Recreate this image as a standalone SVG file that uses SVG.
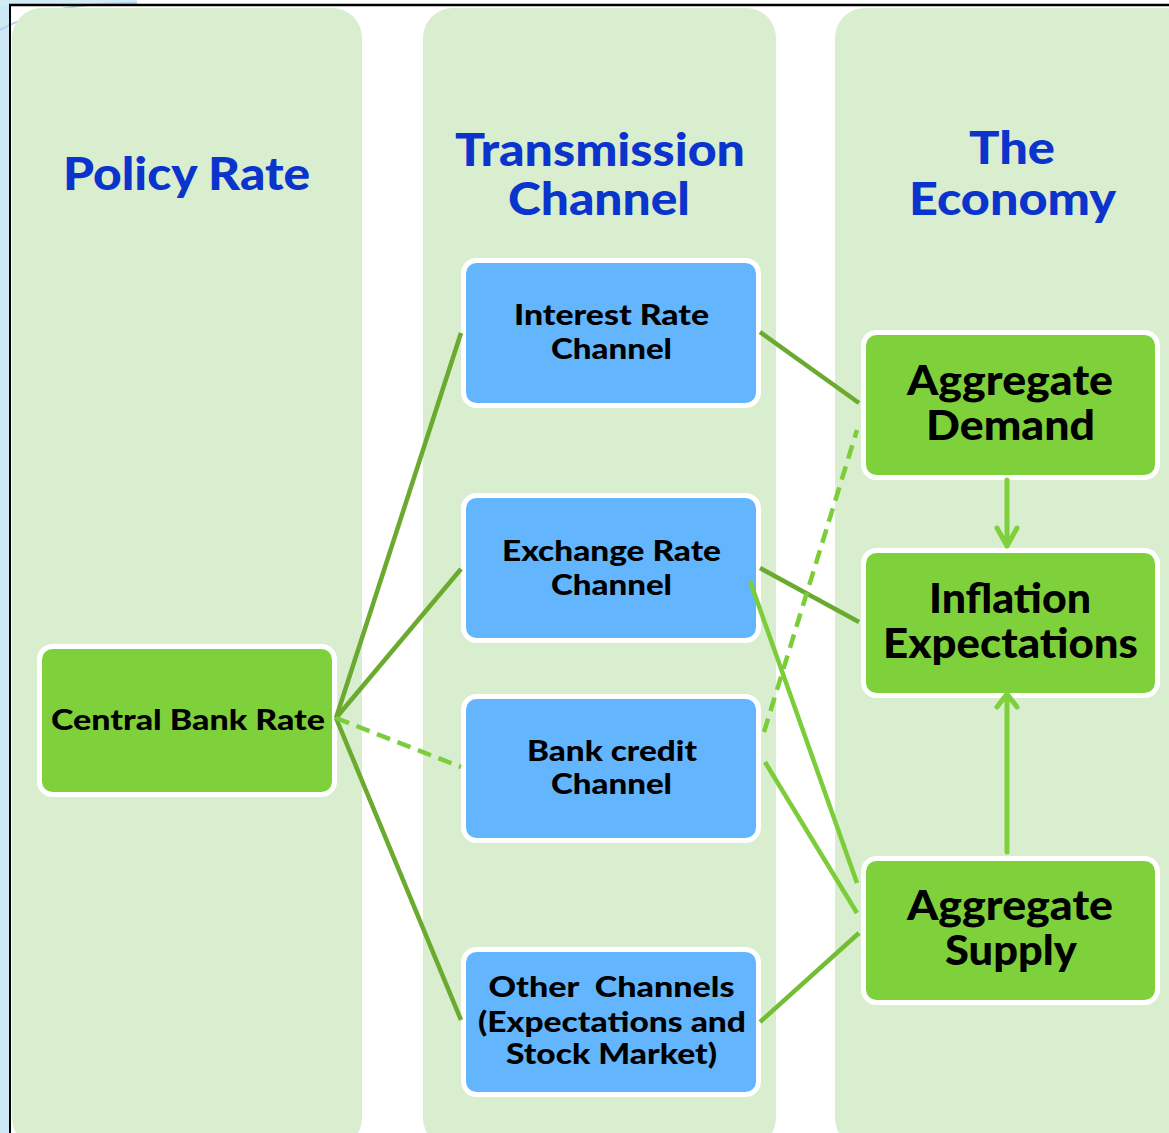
<svg xmlns="http://www.w3.org/2000/svg" width="1169" height="1133" viewBox="0 0 1169 1133">
<style>
.col{fill:#d9edcf}
.gn{fill:#7fd13b;stroke:#fff;stroke-width:5}
.bl{fill:#63b5fd;stroke:#fff;stroke-width:5}
.ttl{font-family:Lato,"Open Sans","DejaVu Sans",sans-serif;font-weight:900;fill:#0a34cc;text-anchor:middle;font-size:45px}
.nt{font-family:Lato,"Open Sans","DejaVu Sans",sans-serif;font-weight:900;fill:#000;text-anchor:middle;font-size:29px}
.big{font-size:41px}
.dk{stroke:#6aaa2f;stroke-width:4.5;fill:none}
.lt{stroke:#7ccd3a;stroke-width:4.5;fill:none}
.ds{stroke-dasharray:14 8}
.ar{stroke:#7fd13b;stroke-width:5;fill:none;stroke-linecap:round;stroke-linejoin:round}
</style>
<rect x="0" y="0" width="1169" height="1133" fill="#fff"/>
<!-- left decoration -->
<rect x="0" y="0" width="10" height="1133" fill="#cde9f8"/>
<rect x="0" y="0" width="137" height="6" fill="#d3eaf7"/>
<path d="M0 30 Q50 2 137 3" stroke="#b3d4e8" stroke-width="2" fill="none"/>
<!-- frame -->
<line x1="9" y1="5" x2="1169" y2="5" stroke="#000" stroke-width="2.5"/>
<line x1="10" y1="5" x2="10" y2="1133" stroke="#000" stroke-width="2"/>
<!-- columns -->
<rect class="col" x="12" y="8" width="350" height="1140" rx="30"/>
<rect class="col" x="423" y="8" width="353" height="1140" rx="30"/>
<rect class="col" x="835" y="8" width="360" height="1140" rx="30"/>
<text class="ttl" x="186.5" y="190" textLength="247" lengthAdjust="spacingAndGlyphs">Policy Rate</text>
<text class="ttl" x="600" y="166" textLength="290" lengthAdjust="spacingAndGlyphs">Transmission</text>
<text class="ttl" x="599" y="215" textLength="182" lengthAdjust="spacingAndGlyphs">Channel</text>
<text class="ttl" x="1012" y="164" textLength="86" lengthAdjust="spacingAndGlyphs">The</text>
<text class="ttl" x="1012.5" y="215" textLength="207" lengthAdjust="spacingAndGlyphs">Economy</text>
<g id="central-bank-rate">
<rect class="gn" x="39.5" y="646.5" width="295" height="148" rx="13"/>
<text class="nt" x="188" y="730" textLength="274" lengthAdjust="spacingAndGlyphs">Central Bank Rate</text>
</g>
<g id="interest-rate-channel">
<rect class="bl" x="463.5" y="260.5" width="295" height="145" rx="13"/>
<text class="nt" x="611.5" y="325" textLength="195" lengthAdjust="spacingAndGlyphs">Interest Rate</text>
<text class="nt" x="611.5" y="359" textLength="121" lengthAdjust="spacingAndGlyphs">Channel</text>
</g>
<g id="exchange-rate-channel">
<rect class="bl" x="463.5" y="495.5" width="295" height="145" rx="13"/>
<text class="nt" x="611.5" y="561" textLength="219" lengthAdjust="spacingAndGlyphs">Exchange Rate</text>
<text class="nt" x="611.5" y="595" textLength="121" lengthAdjust="spacingAndGlyphs">Channel</text>
</g>
<g id="bank-credit-channel">
<rect class="bl" x="463.5" y="696.5" width="295" height="144" rx="13"/>
<text class="nt" x="612" y="761" textLength="170" lengthAdjust="spacingAndGlyphs">Bank credit</text>
<text class="nt" x="611.5" y="794" textLength="121" lengthAdjust="spacingAndGlyphs">Channel</text>
</g>
<g id="other-channels">
<rect class="bl" x="463.5" y="949.5" width="295" height="145" rx="13"/>
<text class="nt" x="611.5" y="997" xml:space="preserve" textLength="246" lengthAdjust="spacingAndGlyphs">Other  Channels</text>
<text class="nt" x="612" y="1032" textLength="268" lengthAdjust="spacingAndGlyphs">(Expectations and</text>
<text class="nt" x="611.5" y="1064" textLength="211" lengthAdjust="spacingAndGlyphs">Stock Market)</text>
</g>
<g id="aggregate-demand">
<rect class="gn" x="863.5" y="332.5" width="294" height="145" rx="13"/>
<text class="nt big" x="1010" y="395" textLength="206" lengthAdjust="spacingAndGlyphs">Aggregate</text>
<text class="nt big" x="1010.5" y="440" textLength="169" lengthAdjust="spacingAndGlyphs">Demand</text>
</g>
<g id="inflation-expectations">
<rect class="gn" x="863.5" y="550.5" width="294" height="145" rx="13"/>
<text class="nt big" x="1010" y="613" textLength="162" lengthAdjust="spacingAndGlyphs">Inflation</text>
<text class="nt big" x="1010.5" y="658" textLength="255" lengthAdjust="spacingAndGlyphs">Expectations</text>
</g>
<g id="aggregate-supply">
<rect class="gn" x="863.5" y="858.5" width="294" height="144" rx="13"/>
<text class="nt big" x="1010" y="920" textLength="206" lengthAdjust="spacingAndGlyphs">Aggregate</text>
<text class="nt big" x="1011" y="965" textLength="132" lengthAdjust="spacingAndGlyphs">Supply</text>
</g>
<g id="connectors">
<line class="dk" x1="336" y1="718" x2="461" y2="333"/>
<line class="dk" x1="336" y1="718" x2="461" y2="569"/>
<line class="dk" x1="336" y1="718" x2="461" y2="1020"/>
<line class="lt ds" x1="336" y1="718" x2="461" y2="767"/>
<line class="dk" x1="760" y1="332" x2="859" y2="403"/>
<line class="dk" x1="760" y1="568" x2="859" y2="622"/>
<line class="lt" x1="750" y1="581" x2="857" y2="883"/>
<line class="lt" x1="765" y1="762" x2="857" y2="913"/>
<line class="lt ds" x1="764" y1="732" x2="857" y2="430"/>
<line class="dk" x1="760" y1="1022" x2="859" y2="933" style="stroke:#72bd33"/>
<path class="ar" d="M1007 480 V546 M997 528 L1007 546 L1017 528"/>
<path class="ar" d="M1007 852 V696 M997 707 L1007 694 L1017 707"/>
</g>
</svg>
